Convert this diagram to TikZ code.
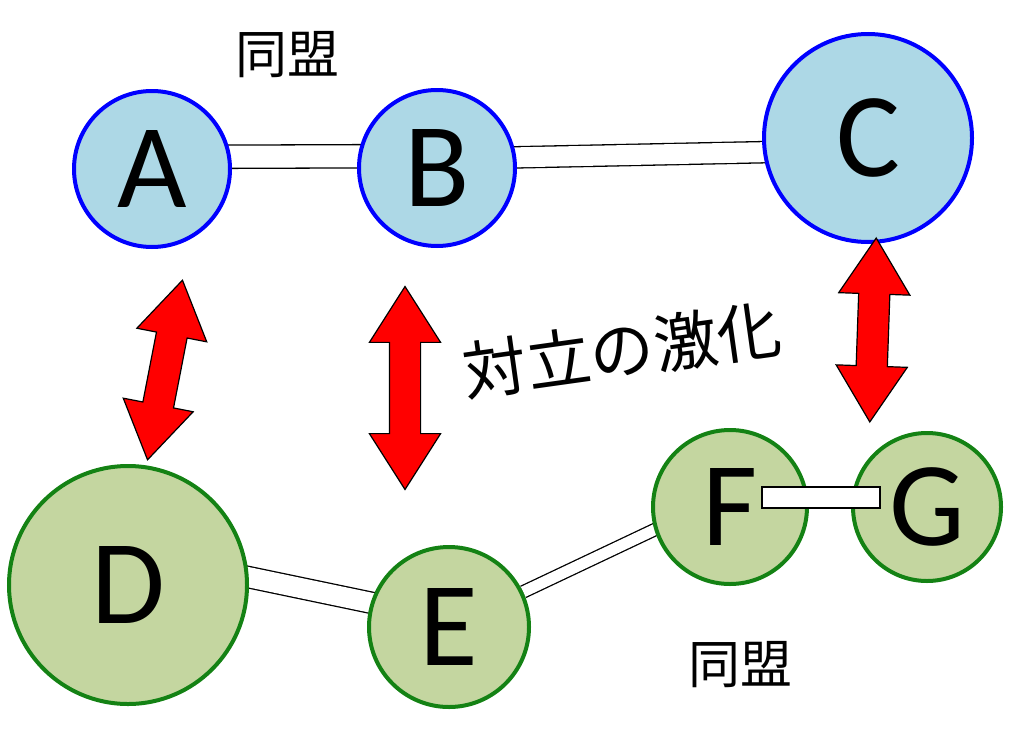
\documentclass[tikz,border=0pt]{standalone}
\usepackage{fontspec}
\setmainfont{Carlito}
\newfontfamily\cjk{Noto Sans CJK JP}
\usetikzlibrary{shapes.arrows,backgrounds,calc}
\definecolor{bfill}{RGB}{173,216,230}
\definecolor{gfill}{RGB}{196,214,160}
\definecolor{gline}{RGB}{20,130,20}
\begin{document}
\begin{tikzpicture}[x=1pt,y=-1pt,
  bn/.style={circle,draw=blue,line width=4pt,fill=bfill,inner sep=0pt,font=\fontsize{120}{120}\selectfont},
  gn/.style={circle,draw=gline,line width=4pt,fill=gfill,inner sep=0pt,font=\fontsize{120}{120}\selectfont},
  band/.style={draw=black,line width=1.3pt,double=white,double distance=#1},
  band/.default=20pt,
  darr/.style={double arrow,draw=black,line width=1.2pt,fill=red,minimum width=70pt,
    double arrow head extend=20pt,double arrow tip angle=65,inner xsep=0pt,inner ysep=15pt},
  jt/.style={font=\cjk\fontsize{#1}{#1}\selectfont}]
\useasboundingbox (0,0) rectangle (1024,728);
\node[bn,minimum size=156pt] (A) at (152,169) {A};
\node[bn,minimum size=156pt] (B) at (437,168) {B};
\node[bn,minimum size=208pt] (C) at (868,138) {C};
\node[gn,minimum size=238pt] (D) at (128,585) {D};
\node[gn,minimum size=160pt] (E) at (449,627) {E};
\node[gn,minimum size=154pt] (F) at (730,507) {F};
\node[gn,minimum size=148pt] (G) at (927,507) {G};
\begin{scope}[on background layer]
\draw[band=22pt] ($(A)+(0,-12)$) -- ($(B)+(0,-12)$);
\draw[band] ($(B)+(0,-9)$) -- ($(C)+(0,12)$);
\draw[band] ($(D)+(0,-33)$) -- ($(E)+(0,-8)$);
\draw[band=11pt] (E) -- ($(F)+(0,-13)$);
\end{scope}
\draw[fill=white,line width=1.3pt] ($(F)+(32,-20)$) rectangle ($(G)+(-47,1)$);
\node[darr,minimum height=183pt,rotate=79] (r1) at (165,370) {};
\node[darr,minimum height=203pt,rotate=90] (r2) at (405,388) {};
\node[darr,minimum height=184pt,rotate=88] (r3) at (873,330) {};
\node[jt=52] (t1) at (287,55) {同盟};
\node[jt=52] (t2) at (740,665) {同盟};
\node[jt=64,rotate=8] (t3) at (622,350) {対立の激化};
\end{tikzpicture}
\end{document}
